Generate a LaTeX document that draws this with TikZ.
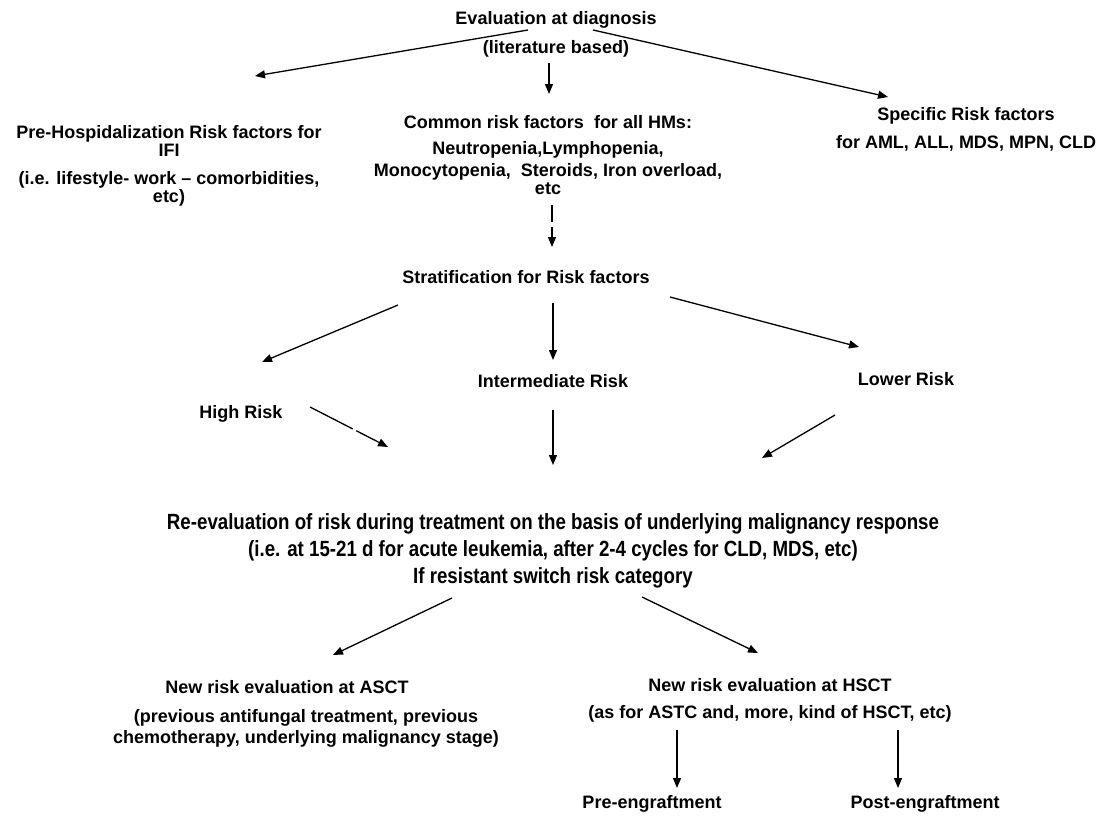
\documentclass[tikz,border=0pt]{standalone}
\usepackage{fontspec}
\setmainfont{Liberation Sans}
\newfontfamily\narrowfont{Liberation Sans}[FakeStretch=0.85]
\usetikzlibrary{arrows.meta}

\begin{document}
\begin{tikzpicture}[x=1pt,y=-1pt,
		txt/.style={anchor=north,inner sep=0pt,align=center,font=\fontsize{18}{18}\selectfont\bfseries},
		nar/.style={anchor=north,inner sep=0pt,align=center,font=\fontsize{22}{21}\selectfont\narrowfont\bfseries},
		arr/.style={line width=1.3pt,-{Triangle[length=10pt,width=8pt]}}
		]
		\useasboundingbox (0,0) rectangle (1107,816);
		% text blocks
		\node[txt] (ev) at (556,11) {Evaluation at diagnosis\\[11pt](literature based)};
		\node[txt] (pre) at (169,125) {Pre-Hospidalization Risk factors for\\IFI\\[10pt](i.e. lifestyle- work -- comorbidities,\\etc)};
		\node[txt] (com) at (548,115) {Common risk factors\ \ for all HMs:\\[8pt]Neutropenia,Lymphopenia,\\[4pt]Monocytopenia,\ \ Steroids, Iron overload,\\etc};
		\node[txt] (spe) at (966,107) {Specific Risk factors\\[10pt]for AML, ALL, MDS, MPN, CLD};
		\node[txt] (str) at (526,270) {Stratification for Risk factors};
		\node[txt] (hi) at (241,405) {High Risk};
		\node[txt] (im) at (553,374) {Intermediate Risk};
		\node[txt] (lo) at (906,372) {Lower Risk};
		\node[nar] (re) at (553,513) {Re-evaluation\ of risk during treatment on the basis of underlying malignancy response\\[6pt](i.e. at 15-21 d for acute leukemia, after 2-4 cycles for CLD, MDS, etc)\\[6pt]If resistant switch risk category};
		\node[txt] (as) at (287,680) {New risk evaluation at ASCT};
		\node[txt] (asx) at (306,709) {(previous antifungal treatment, previous\\[3pt]chemotherapy, underlying malignancy stage)};
		\node[txt] (hs) at (770,678) {New risk evaluation at HSCT\\[9pt](as for ASTC and, more, kind of HSCT, etc)};
		\node[txt] (pe) at (652,795) {Pre-engraftment};
		\node[txt] (po) at (925,795) {Post-engraftment};
		% arrow ends
		\coordinate (ev1) at (528,30);  \coordinate (ev2) at (255,76);
		\coordinate (ev3) at (549,63);  \coordinate (ev4) at (549,94);
		\coordinate (ev5) at (593,30);  \coordinate (ev6) at (888,97);
		\coordinate (co1) at (552,205); \coordinate (co2) at (552,247);
		\coordinate (st1) at (398,305); \coordinate (st2) at (262,362);
		\coordinate (st3) at (553,303); \coordinate (st4) at (553,360);
		\coordinate (st5) at (670,297); \coordinate (st6) at (859,347);
		\coordinate (hi1) at (310,407); \coordinate (hi2) at (388,447);
		\coordinate (im1) at (553,410); \coordinate (im2) at (553,465);
		\coordinate (lo1) at (835,415); \coordinate (lo2) at (762,458);
		\coordinate (re1) at (452,598); \coordinate (re2) at (333,655);
		\coordinate (re3) at (642,597); \coordinate (re4) at (758,653);
		\coordinate (hs1) at (677,730); \coordinate (hs2) at (677,788);
		\coordinate (hs3) at (898,730); \coordinate (hs4) at (898,788);
		% arrows
		\draw[arr] (ev1) -- (ev2);
		\draw[arr] (ev3) -- (ev4);
		\draw[arr] (ev5) -- (ev6);
		\draw[arr,dash pattern=on 17pt off 5pt] (co1) -- (co2);
		\draw[arr] (st1) -- (st2);
		\draw[arr] (st3) -- (st4);
		\draw[arr] (st5) -- (st6);
		\draw[arr,dash pattern=on 48pt off 4pt] (hi1) -- (hi2);
		\draw[arr] (im1) -- (im2);
		\draw[arr] (lo1) -- (lo2);
		\draw[arr] (re1) -- (re2);
		\draw[arr] (re3) -- (re4);
		\draw[arr] (hs1) -- (hs2);
		\draw[arr] (hs3) -- (hs4);
	\end{tikzpicture}
\end{document}
